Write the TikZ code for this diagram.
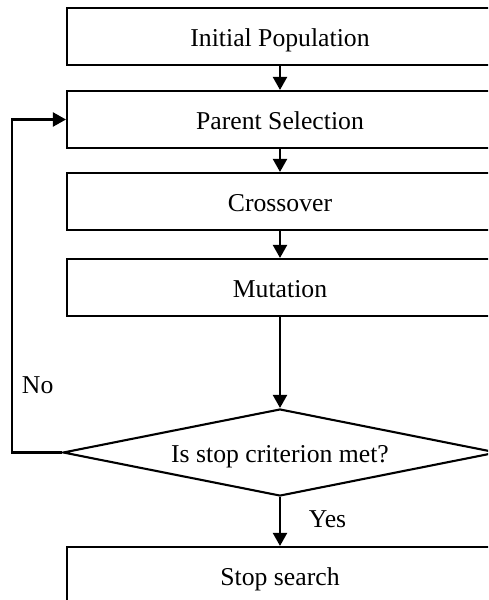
\documentclass[tikz,border=0pt]{standalone}
\usepackage{fontspec}
\setmainfont{Liberation Serif}
\usetikzlibrary{arrows.meta,shapes.geometric}
\begin{document}
\begin{tikzpicture}[x=1pt,y=-1pt,
  every node/.style={font=\fontsize{25.7}{30}\selectfont},
  stepbox/.style={draw,line width=2.1pt,minimum width=426pt,minimum height=57pt,inner sep=0pt,text height=19pt,text depth=0pt},
  decision/.style={draw,line width=2.1pt,diamond,aspect=4.99,minimum width=434pt,minimum height=87pt,inner sep=0pt,text height=19pt,text depth=0pt},
  flow/.style={line width=2.1pt,-{Triangle[length=13pt,width=14pt]}},
  lbl/.style={inner sep=0pt,anchor=base}]
\clip (0,0) rectangle (488,600);
\fill[white] (0,0) rectangle (488,600);
% process boxes
\node[stepbox] (init)   at (280,36.7)  {Initial Population};
\node[stepbox] (parent) at (280,119.5) {Parent Selection};
\node[stepbox] (cross)  at (280,201.5) {Crossover};
\node[stepbox] (mut)    at (280,287.5) {Mutation};
\node[decision] (stop)  at (280,452.5) {Is stop criterion met?};
\node[stepbox] (halt)   at (280,575.5) {Stop search};
% connectors
\draw[flow] (init.south) -- (parent.north);
\draw[flow] (parent.south) -- (cross.north);
\draw[flow] (cross.south) -- (mut.north);
\draw[flow] (mut.south) -- (stop.north);
\draw[flow] (stop.south) -- (halt.north);
\coordinate (loop) at (12.3,0);
\draw[flow] (stop.west) -| (loop |- parent.west) -- (parent.west);
% branch labels
\node[lbl] (no)  at (37.7,393) {No};
\node[lbl] (yes) at (327.5,527.7) {Yes};
\end{tikzpicture}
\end{document}
